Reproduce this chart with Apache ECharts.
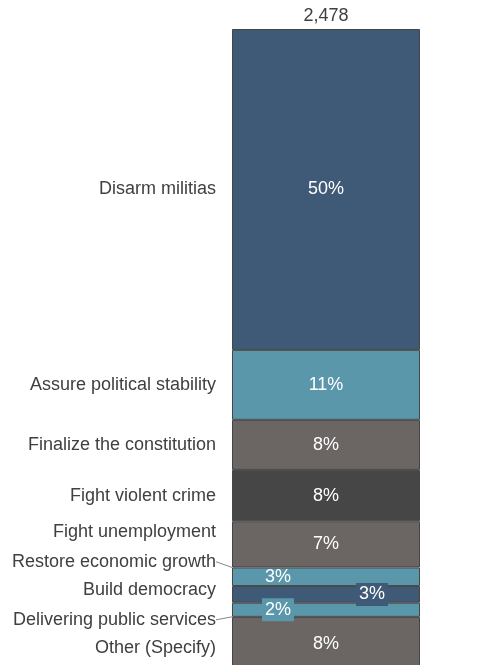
<!DOCTYPE html>
<html><head><meta charset="utf-8">
<script src="https://cdn.jsdelivr.net/npm/echarts@6/dist/echarts.min.js"></script>
<style>html,body{margin:0;padding:0;background:#fff}#c{width:490px;height:665px}</style>
</head><body><div id="c"></div>
<script>
const categories = ["Disarm militias","Assure political stability","Finalize the constitution","Fight violent crime","Fight unemployment","Restore economic growth","Build democracy","Delivering public services","Other (Specify)"];
const shares = [50.0, 10.9, 7.8, 8.0, 7.2, 2.9, 2.6, 2.2, 8.4];
const totalLabel = ["2,478"];

const colors = ["#3f5a77","#5b97ab","#6b6564","#464646","#6b6564","#5b97ab","#3f5a77","#5b97ab","#6b6564"];
const nameDy = [0,0,0,0,-12,-15,-4,10,4];
const nameLine = [false,false,false,false,false,true,false,true,false];
const pctOffset = [[0,0],[0,0],[0,0],[0,0],[0,0],[-48,0],[46,0],[-48,0],[0,0]];
const pctBox = [false,false,false,false,false,false,true,true,false];
const FONT = 'Liberation Sans, Arial, sans-serif';

const series = [];
categories.forEach((name,i)=>{
  series.push({
    type:'bar', name:name, stack:'a', barWidth:'100%', clip:false,
    data:[shares[i]],
    itemStyle:{color:colors[i], borderColor:'#454545', borderWidth:1},
    label:{show:true, position:'inside', offset:pctOffset[i],
      formatter:()=>Math.round(shares[i])+'%',
      color:'#fff', fontSize:18, fontFamily:FONT,
      backgroundColor: pctBox[i]?colors[i]:'transparent',
      padding: pctBox[i]?[3,3,2,3]:0},
    z:2
  });
});
categories.forEach((name,i)=>{
  series.push({
    type:'bar', name:name+'_n', stack:'b', barWidth:'100%', barGap:'-100%', clip:false,
    data:[shares[i]],
    itemStyle:{color:'transparent'},
    silent:true,
    label:{show:true, position:'left', distance:16, formatter:name,
      color:'#404040', fontSize:18, fontFamily:FONT},
    labelLayout:{dy:nameDy[i]},
    labelLine:{show:nameLine[i], lineStyle:{color:'#666', width:0.8}, length2:0},
    z:1
  });
});

const chart = echarts.init(document.getElementById('c'), null, {renderer:'canvas'});
chart.setOption({
  animation:false,
  grid:{left:232, width:188, top:29, bottom:0, containLabel:false},
  xAxis:{type:'category', data:totalLabel, position:'top',
    axisLine:{show:false}, axisTick:{show:false},
    axisLabel:{color:'#404040', fontSize:18, margin:4, fontFamily:FONT}},
  yAxis:{type:'value', min:0, max:99.1, inverse:true, show:false},
  series:series
});
</script></body></html>
